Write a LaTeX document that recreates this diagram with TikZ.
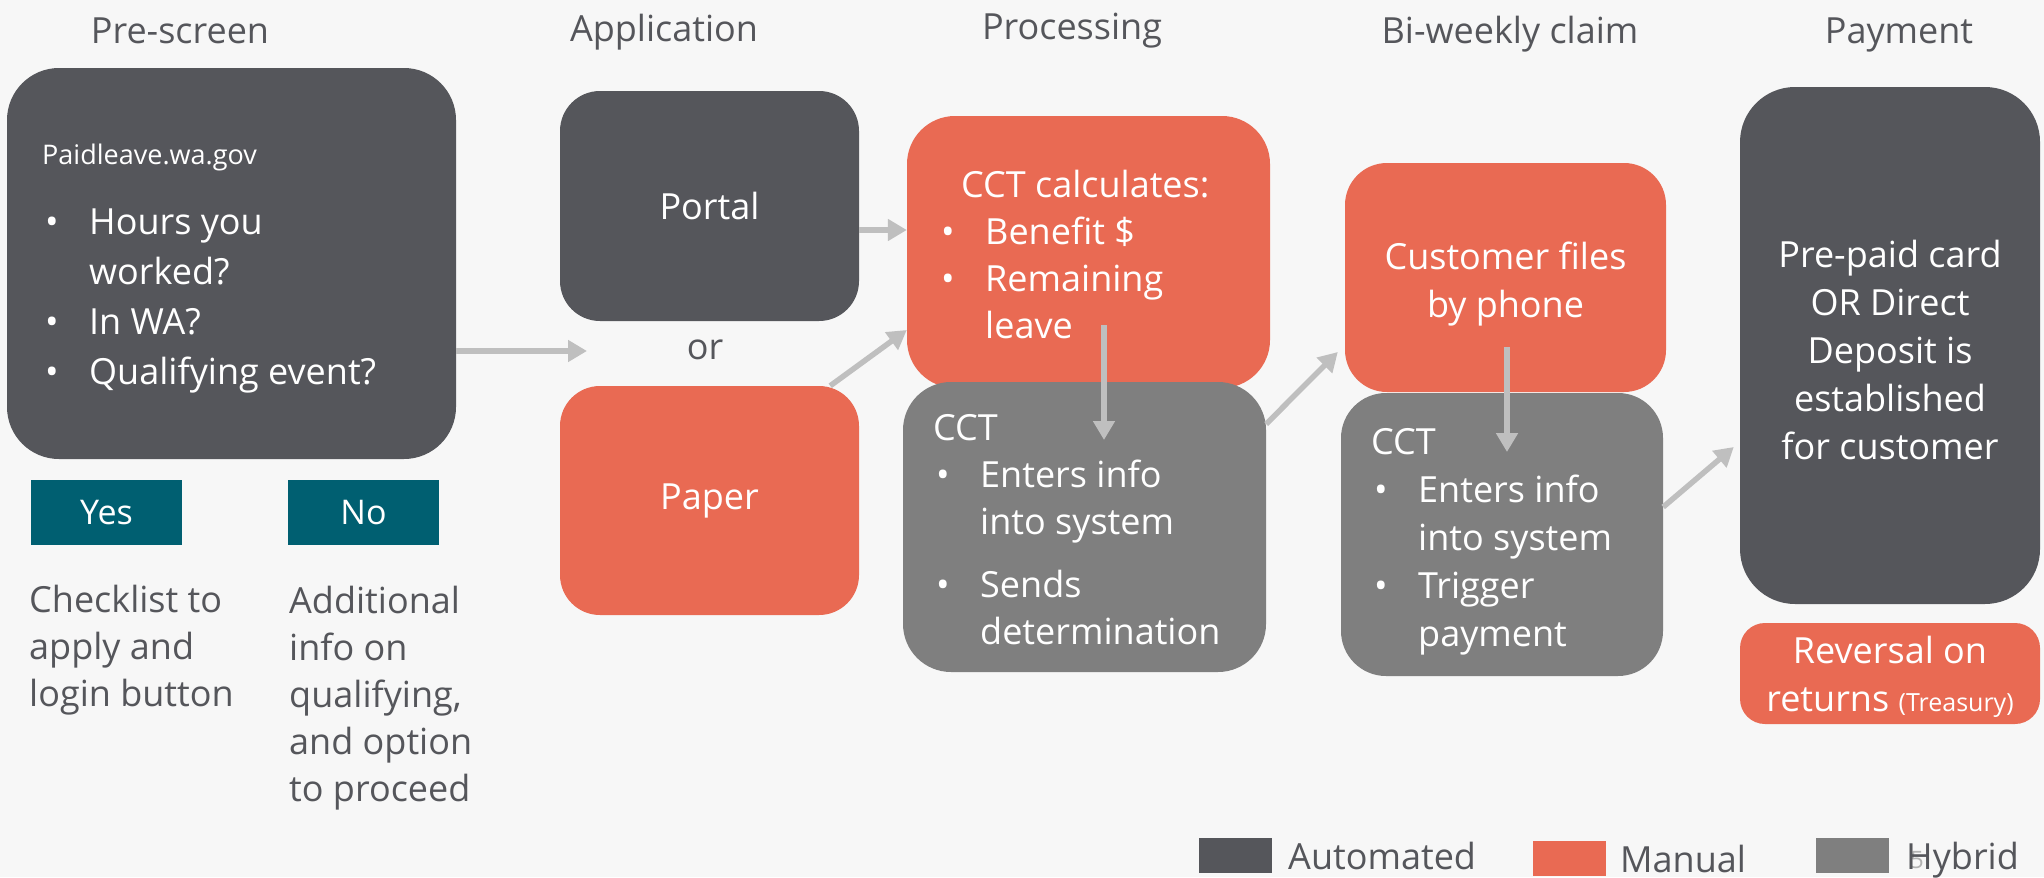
\documentclass[tikz,border=0pt]{standalone}
\usepackage{fontspec}
\setmainfont{Open Sans}
\usetikzlibrary{arrows.meta}

\definecolor{autogray}{HTML}{55565B}
\definecolor{manorange}{HTML}{E96A53}
\definecolor{hybgray}{HTML}{7F7F7F}
\definecolor{yesteal}{HTML}{005F71}
\definecolor{linkgray}{HTML}{BFBFBF}
\definecolor{inkgray}{HTML}{55565B}
\definecolor{slidebg}{HTML}{F7F7F7}

\newcommand{\boxfont}{\fontsize{36}{48}\selectfont}
\newcommand{\urlfont}{\fontsize{27}{32}\selectfont}
\newcommand{\bul}{\makebox[47pt][l]{\hspace{3pt}\textbullet}}
\newcommand{\ind}{\hspace*{47pt}}

\begin{document}
\begin{tikzpicture}[x=1pt, y=-1pt,
    box/.style={rounded corners=#1, inner sep=0pt, text=white, align=center, font=\boxfont},
    box/.default=42pt,
    autobox/.style={box=#1, fill=autogray}, autobox/.default=42pt,
    manbox/.style={box=#1, fill=manorange}, manbox/.default=42pt,
    hybbox/.style={box=#1, fill=hybgray}, hybbox/.default=42pt,
    answer/.style={fill=yesteal, text=white, inner sep=0pt, minimum width=151pt, minimum height=65pt, font=\fontsize{34}{40}\selectfont},
    inbox/.style={inner sep=0pt, text=white, align=left, font=\boxfont},
    note/.style={inner sep=0pt, text=inkgray, align=left, font=\fontsize{36}{47}\selectfont},
    head/.style={inner sep=0pt, text=inkgray, anchor=base, font=\fontsize{36}{44}\selectfont},
    key/.style={inner sep=0pt, minimum width=73pt, minimum height=35pt},
    flow/.style={draw=linkgray, line width=5.5pt, -{Triangle[length=19pt,width=21pt]}}]

    % slide background, also fixes the size
    \fill[slidebg] (0,0) rectangle (2044,877);

    % stage titles (base anchor = last line)
    \node[head] (t1) at (180,43)  {Pre-screen};
    \node[head] (t2) at (664,41)  {Application};
    \node[head] (t3) at (1072,39) {Processing};
    \node[head] (t4) at (1510,43) {Bi-weekly claim};
    \node[head] (t5) at (1899,43) {Payment};

    % pre-screen
    \node[autobox=52pt, minimum width=449pt, minimum height=391pt] (pre) at (231.5,263.5) {};
    \node[inbox, font=\urlfont, anchor=base west] (url) at (42,164) {Paidleave.wa.gov};
    \node[inbox, font=\fontsize{36}{50}\selectfont, anchor=base west] (asks) at (42,384)
        {\bul Hours you\\\ind worked?\\\bul In WA?\\\bul Qualifying event?};
    \node[answer] (yes) at (106.5,512.5) {Yes};
    \node[answer] (no)  at (363.5,512.5) {No};
    \node[note, anchor=base west] (yesnote) at (29,706) {Checklist to\\apply and\\login button};
    \node[note, anchor=base west] (nonote)  at (289,801) {Additional\\info on\\qualifying,\\and option\\to proceed};

    % application
    \node[autobox=40pt, minimum width=299pt, minimum height=230pt] (portal) at (709.5,206) {Portal};
    \node[note] (orword) at (705,350) {or};
    \node[manbox=40pt, minimum width=299pt, minimum height=229pt] (paper) at (709.5,500.5) {Paper};
    \coordinate (appin) at (587,351);

    % processing
    \node[manbox=48pt, minimum width=363pt, minimum height=272pt] (calc) at (1088.5,252) {};
    \node[inbox, font=\fontsize{36}{47}\selectfont, anchor=base west] (calctxt) at (938,338)
        {\hspace*{23pt}CCT calculates:\\\bul Benefit \$\\\bul Remaining\\\ind leave};
    \node[hybbox=48pt, minimum width=363pt, minimum height=290pt] (cct1) at (1084.5,527) {};
    \node[inbox, font=\fontsize{36}{47}\selectfont, anchor=base west] (cct1txt) at (933,644)
        {CCT\\\bul Enters info\\\ind into system\\[16pt]\bul Sends\\\ind determination};
    \coordinate (calcout) at (1104,325);

    % bi-weekly claim
    \node[manbox=42pt, minimum width=321pt, minimum height=229pt] (phone) at (1505.5,277.5) {};
    \node[inbox, align=center] (phonetxt) at ([yshift=-7pt]phone.center) {Customer files\\by phone};
    \node[hybbox=45pt, minimum width=322pt, minimum height=283pt] (cct2) at (1502,534.5) {};
    \node[inbox, anchor=base west] (cct2txt) at (1371,646)
        {CCT\\\bul Enters info\\\ind into system\\\bul Trigger\\\ind payment};
    \coordinate (phoneout) at (1507,347);

    % payment
    \node[autobox=55pt, minimum width=300pt, minimum height=517pt] (pay) at (1890,345.5) {};
    \node[inbox, align=center] (paytxt) at ([yshift=-4pt]pay.center)
        {Pre-paid card\\OR Direct\\Deposit is\\established\\for customer};
    \node[manbox=25pt, minimum width=300pt, minimum height=101pt] (rev) at (1890,673.5) {};
    \node[inbox, align=center] (revtxt) at ([yshift=-3pt]rev.center)
        {Reversal on\\returns {\fontsize{25}{28}\selectfont(Treasury)}};

    % connectors
    \draw[flow] (pre.east |- appin) -- (appin);
    \draw[flow] (portal.east |- 0,230) -- (calc.west |- 0,230);
    \draw[flow] ([xshift=-29pt]paper.north east) -- (calc.west |- 0,330);
    \draw[flow] (calcout) -- (calcout |- 0,440);
    \draw[flow] (cct1.east |- 0,424) -- ([xshift=-7pt]phone.west |- 0,352);
    \draw[flow] (phoneout) -- (phoneout |- 0,452);
    \draw[flow] (cct2.east |- 0,507) -- ([xshift=-6pt]pay.west |- 0,447);

    % legend
    \node[key, fill=autogray]  (kauto) at (1235,855.5) {};
    \node[note, anchor=base west] (lauto) at (1288,869) {Automated};
    \node[key, fill=manorange] (kman)  at (1569,858.5) {};
    \node[note, anchor=base west] (lman) at (1620,872) {Manual};
    \node[key, fill=hybgray]   (khyb)  at (1852.5,855) {};
    \node[inner sep=0pt, text=black!30, font=\fontsize{24}{28}\selectfont] (slideno) at (1917,860) {5};
    \node[note, anchor=base west] (lhyb) at (1906,869) {Hybrid};
\end{tikzpicture}
\end{document}
